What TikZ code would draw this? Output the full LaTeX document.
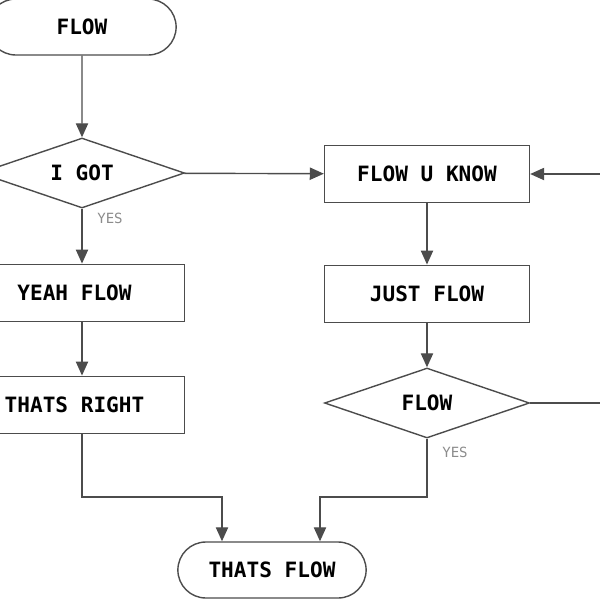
\documentclass[tikz,border=0pt]{standalone}
\usepackage{fontspec}
\setmonofont{DejaVu Sans Mono}
\usetikzlibrary{shapes.geometric,shapes.misc,arrows.meta}
\tikzset{
  box/.style={draw=black!70,thick,rectangle,minimum width=4.1cm,minimum height=1.15cm,font=\ttfamily\bfseries\fontsize{12}{14}\selectfont},
  term/.style={draw=black!70,thick,rounded rectangle,minimum width=4cm,minimum height=1.12cm,font=\ttfamily\bfseries\fontsize{12}{14}\selectfont},
  dec/.style={draw=black!70,thick,diamond,aspect=2.9,minimum width=4.1cm,minimum height=1.4cm,inner sep=0pt,font=\ttfamily\bfseries\fontsize{12}{14}\selectfont},
  yes/.style={text=black!45,font=\ttfamily\fontsize{8}{9}\selectfont},
  flow/.style={draw=black!70,thick,-{Triangle[length=8pt,width=7pt]}},
  line/.style={draw=black!70,thick}
}
\begin{document}
\begin{tikzpicture}[x=0.02cm,y=-0.02cm]
   \useasboundingbox (0,0) rectangle (600,600);
   \clip (0,0) rectangle (600,600);
   \node[term] (start) at (82,27) {FLOW};
   \node[dec] (igot) at (82,173) {I GOT};
   \node[box] (yeah) at (82,293) {YEAH FLOW\hspace*{0.3cm}};
   \node[box] (right) at (82,405) {THATS RIGHT\hspace*{0.3cm}};
   \node[box] (know) at (427,174) {FLOW U KNOW};
   \node[box] (just) at (427,294) {JUST FLOW};
   \node[dec] (fl) at (427,403) {FLOW};
   \node[term] (end) at (272,570) {THATS FLOW};
   \node[yes] (y1) at (110,218) {YES};
   \node[yes] (y2) at (455,452) {YES};
   \coordinate (inR) at (600,174);
   \coordinate (outR) at (600,403);
   \coordinate (jl) at (222,497);
   \coordinate (jr) at (320,497);

   \draw[flow] (start) -- (igot);
   \draw[flow] (igot) -- (yeah);
   \draw[flow] (yeah) -- (right);
   \draw[flow] (igot) -- (know);
   \draw[flow] (inR) -- (know);
   \draw[flow] (know) -- (just);
   \draw[flow] (just) -- (fl);
   \draw[line] (fl) -- (outR);
   \draw[flow] (right.south) |- (jl) -- (jl |- end.north);
   \draw[flow] (fl.south) |- (jr) -- (jr |- end.north);
\end{tikzpicture}
\end{document}
